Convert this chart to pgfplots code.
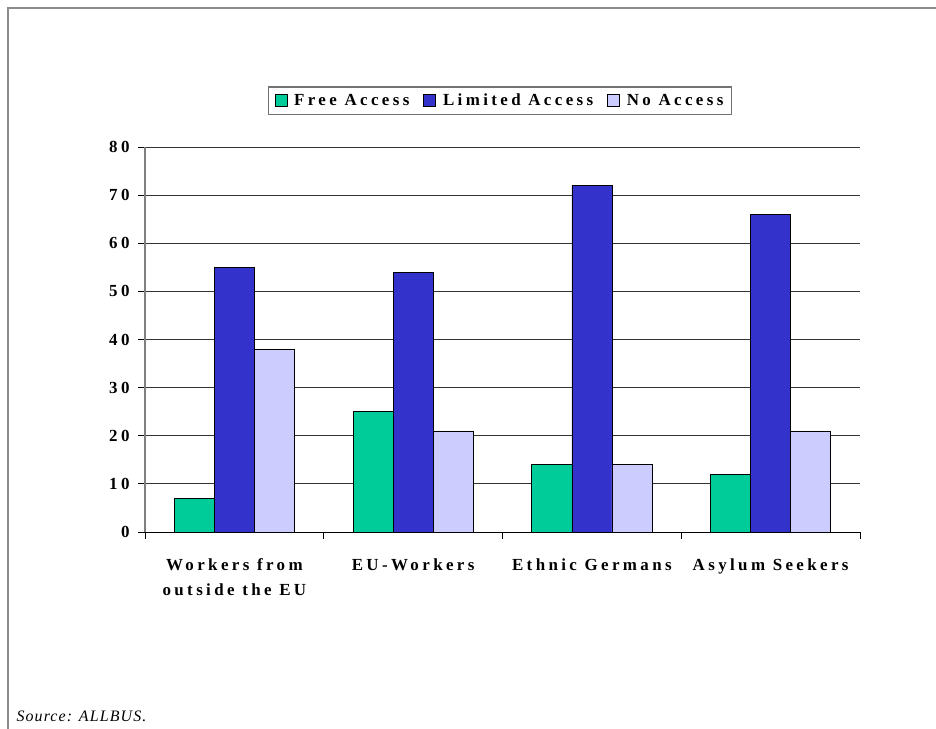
\documentclass[border=0pt]{standalone}
\usepackage{fontspec}
\setmainfont{Liberation Serif}
\newfontfamily\lbl{Liberation Serif}[LetterSpace=20]
\newfontfamily\srcf{Liberation Serif}[LetterSpace=7]
\usepackage{pgfplots}
\pgfplotsset{compat=1.18}
\definecolor{freec}{RGB}{0,204,153}
\definecolor{limc}{RGB}{51,51,204}
\definecolor{noc}{RGB}{204,204,255}
\pgfplotsset{mybar/.style={draw=black, line width=0.7bp, fill=#1,
  legend image code/.code={\draw[fill=#1, draw=black, line width=0.6bp] (0bp,-6bp) rectangle (12bp,6bp);}}}
\begin{document}
\begin{tikzpicture}[x=1bp,y=1bp]
\path[use as bounding box] (0,0) rectangle (936,729);
\draw[black!45, line width=2bp] (8,0) -- (8,721) -- (936,721);
\begin{axis}[
  at={(145bp,197bp)}, anchor=south west,
  scale only axis, width=715bp, height=385bp,
  ybar=0pt, bar width=0.224,
  xmin=-0.5, xmax=3.5, ymin=0, ymax=80,
  axis x line*=bottom, axis y line*=left,
  x axis line style={-, black, line width=0.9bp},
  y axis line style={-, black!50, line width=1.5bp},
  tick align=outside, major tick length=7bp,
  ytick={0,10,...,80},
  ymajorgrids, grid style={black!80, line width=0.9bp},
  ytick style={black, line width=0.8bp},
  /pgf/number format/assume math mode=true,
  yticklabel style={font=\lbl\bfseries\fontsize{17}{17}\selectfont, xshift=-5bp},
  xtick={0,1,2,3},
  xtick style={draw=none},
  xticklabels={{Workers from\\outside the EU},{EU-Workers},{Ethnic Germans},{Asylum Seekers}},
  xticklabel style={font=\lbl\bfseries\fontsize{17}{25}\selectfont, align=center, anchor=north, yshift=-16bp},
  extra x ticks={-0.5,0.5,1.5,2.5,3.5},
  extra x tick labels={},
  extra x tick style={grid=none, xtick style={draw=black, line width=0.8bp}},
  legend columns=3,
  legend style={at={(0.4965,1)}, anchor=south, yshift=32bp,
    draw=black!55, line width=1.3bp, inner xsep=6bp, inner ysep=5bp,
    font=\lbl\bfseries\fontsize{17}{17}\selectfont,
    /tikz/every odd column/.append style={column sep=5bp},
    /tikz/every even column/.append style={column sep=12bp}},
]
\addplot[mybar=freec] coordinates {(0,7) (1,25) (2,14) (3,12)};
\addplot[mybar=limc] coordinates {(0,55) (1,54) (2,72) (3,66)};
\addplot[mybar=noc] coordinates {(0,38) (1,21) (2,14) (3,21)};
\legend{Free Access, Limited Access, No Access}
\end{axis}
\node[anchor=base west, font=\srcf\itshape\fontsize{16}{16}\selectfont] at (13,7) {Source: ALLBUS.};
\end{tikzpicture}
\end{document}
